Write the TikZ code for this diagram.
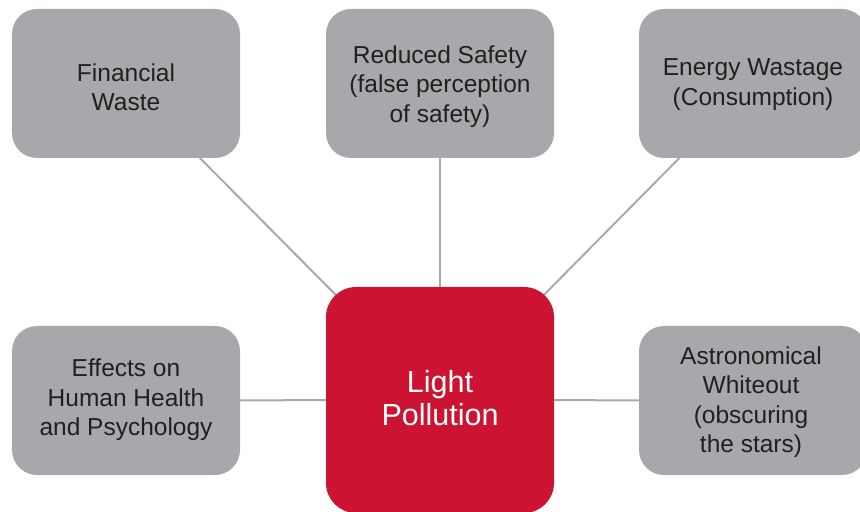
\documentclass[tikz,border=0pt]{standalone}
\usepackage{fontspec}
\setmainfont{Liberation Sans}
\usetikzlibrary{backgrounds}
\definecolor{boxgray}{HTML}{A7A8AB}
\definecolor{linegray}{HTML}{A9AAAD}
\definecolor{lpred}{HTML}{CC1432}
\definecolor{txtdark}{HTML}{231F20}
\tikzset{
  graybox/.style={rectangle, rounded corners=25bp, fill=boxgray,
    minimum width=228bp, minimum height=149bp, inner sep=0pt},
  graytext/.style={text=txtdark, inner sep=0pt, align=center,
    font=\fontsize{24.5bp}{29.5bp}\selectfont},
  redbox/.style={rectangle, rounded corners=30bp, fill=lpred,
    minimum width=228bp, minimum height=226bp, inner sep=0pt},
  redtext/.style={text=white, inner sep=0pt, align=center,
    font=\fontsize{30.5bp}{33bp}\selectfont},
  link/.style={draw=linegray, line width=2bp}
}
\begin{document}
\begin{tikzpicture}[x=1bp,y=-1bp]
\useasboundingbox (0,0) rectangle (860,512);
\clip (0,0) rectangle (860,512);
\node[graybox] (fin) at (126,83.5) {};
\node[graytext] (fint) at (126,87) {Financial\\Waste};
\node[graybox] (safe) at (440,83.5) {};
\node[graytext] (safet) at (440,86.5) {Reduced Safety\\(false perception\\of safety)};
\node[graybox] (energy) at (753,83.5) {};
\node[graytext] (energyt) at (753,84.5) {Energy Wastage\\(Consumption)};
\node[graybox] (health) at (126,400.5) {};
\node[graytext] (healtht) at (126,400) {Effects on\\Human Health\\and Psychology};
\node[graybox] (astro) at (753,400.5) {};
\node[graytext] (astrot) at (751,402) {Astronomical\\Whiteout\\(obscuring\\the stars)};
\node[redbox] (lp) at (440,400) {};
\node[redtext] (lpt) at (440,398) {Light\\Pollution};
\begin{scope}[on background layer]
\draw[link] (fin.center) -- (lp.center);
\draw[link] (safe.center) -- (lp.center);
\draw[link] (energy.center) -- (lp.center);
\draw[link] (health.center) -- (lp.center);
\draw[link] (astro.center) -- (lp.center);
\end{scope}
\end{tikzpicture}
\end{document}
